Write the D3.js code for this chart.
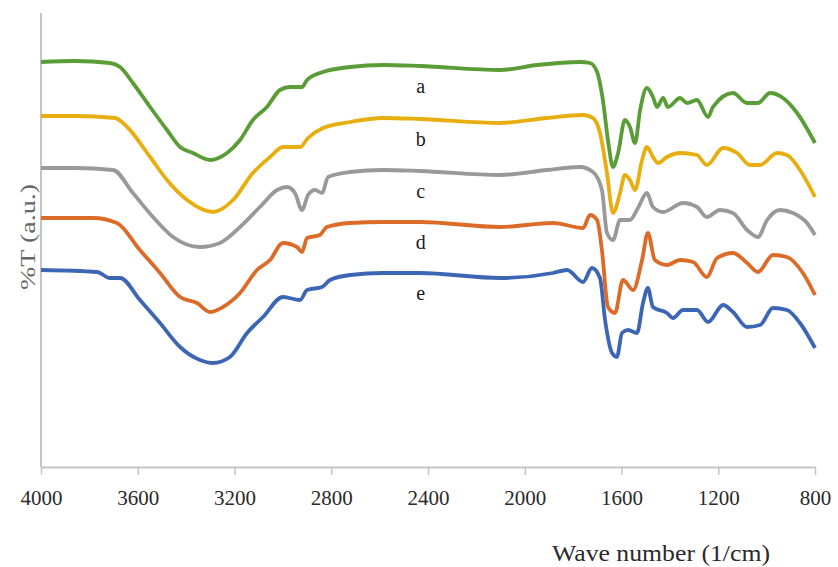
<!DOCTYPE html>
<html>
<head>
<meta charset="utf-8">
<script src="https://cdn.jsdelivr.net/npm/d3@7"></script>
<style>
  body { margin: 0; background: #fff; }
  svg { display: block; }
</style>
</head>
<body>
<svg id="chart" width="838" height="567"></svg>
<script>
// wave number ticks (1/cm), reversed axis
var waveTicks = [4000, 3600, 3200, 2800, 2400, 2000, 1600, 1200, 800];
var labels = ['a', 'b', 'c', 'd', 'e'];

// [wave number, %T (a.u.)]
var seriesA = [[4000,405],[3860,406],[3715,404],[3673,400],[3620,384],[3549,360],[3479,337],[3425,320],[3372,314],[3301,307],[3231,314],[3177,327],[3124,347],[3066,360],[3012,377],[2971,380],[2921,380],[2900,387],[2834,395],[2722,400],[2586,402],[2433,401],[2102,397],[1949,402],[1772,405],[1730,404],[1701,395],[1677,367],[1656,327],[1635,300],[1614,314],[1586,347],[1565,340],[1544,324],[1523,357],[1495,379],[1470,370],[1453,360],[1428,369],[1408,360],[1358,369],[1329,364],[1288,367],[1242,350],[1222,360],[1139,374],[1081,364],[1036,364],[986,374],[932,369],[874,354],[800,324]];
var seriesB = [[4000,351],[3860,351],[3694,349],[3644,340],[3549,310],[3479,287],[3396,267],[3289,255],[3206,267],[3124,294],[3053,310],[3000,320],[2929,320],[2896,329],[2834,339],[2722,345],[2586,349],[2433,348],[2102,344],[1908,349],[1759,352],[1718,349],[1689,334],[1660,294],[1635,254],[1606,274],[1586,292],[1565,287],[1544,277],[1515,307],[1495,320],[1470,310],[1449,304],[1412,310],[1358,314],[1288,312],[1247,302],[1180,319],[1122,314],[1069,302],[1027,302],[957,314],[916,312],[862,297],[800,270]];
var seriesC = [[4000,299],[3860,299],[3702,297],[3620,274],[3537,250],[3454,230],[3343,220],[3260,224],[3177,240],[3095,260],[3024,277],[2983,280],[2950,274],[2921,257],[2896,272],[2867,277],[2838,274],[2813,290],[2722,295],[2586,297],[2433,296],[2102,292],[1908,297],[1772,300],[1718,295],[1681,277],[1660,234],[1635,227],[1606,247],[1565,247],[1532,259],[1495,274],[1470,260],[1428,255],[1346,264],[1288,260],[1247,250],[1193,257],[1139,254],[1081,237],[1036,230],[998,247],[945,257],[891,254],[833,244],[800,232]];
var seriesD = [[4000,249],[3785,249],[3686,244],[3591,217],[3508,194],[3425,170],[3355,164],[3301,155],[3248,160],[3177,174],[3107,197],[3053,207],[3000,224],[2942,220],[2921,215],[2900,229],[2847,232],[2818,240],[2722,244],[2586,245],[2433,245],[2102,240],[1883,244],[1759,239],[1730,252],[1701,247],[1681,217],[1656,160],[1627,154],[1594,187],[1552,177],[1515,207],[1491,234],[1462,207],[1412,202],[1358,207],[1304,205],[1247,190],[1205,209],[1139,214],[1081,204],[1036,195],[974,212],[916,210],[850,194],[800,172]];
var seriesE = [[4000,197],[3768,195],[3715,189],[3673,189],[3591,167],[3508,144],[3425,120],[3343,107],[3289,104],[3219,110],[3148,134],[3082,150],[3000,170],[2929,167],[2900,177],[2838,180],[2805,187],[2722,192],[2586,194],[2433,194],[2102,189],[1883,194],[1825,197],[1759,185],[1722,199],[1689,189],[1668,147],[1639,114],[1619,110],[1598,134],[1573,137],[1536,134],[1511,164],[1491,179],[1470,160],[1412,154],[1387,149],[1346,157],[1288,157],[1242,145],[1180,162],[1139,155],[1081,140],[1027,142],[974,159],[916,157],[862,144],[800,119]];

var series = [seriesA, seriesB, seriesC, seriesD, seriesE];
var colors = ['#5a9d36', '#e8ae10', '#999999', '#dc6b28', '#3c66b4'];

var svg = d3.select('#chart');
var x = d3.scaleLinear().domain([4000, 800]).range([41, 815]);
var y = d3.scaleLinear().domain([0, 454]).range([467, 13]);
var serif = '"Liberation Serif", "Times New Roman", serif';

// y axis: plain line, no ticks
svg.append('line')
    .attr('x1', 41).attr('x2', 41)
    .attr('y1', y(454)).attr('y2', y(0))
    .attr('stroke', '#c4c4c4')
    .attr('stroke-width', 2);

// x axis
var xAxis = svg.append('g')
    .attr('transform', 'translate(0,' + y(0) + ')')
    .call(d3.axisBottom(x).tickValues(waveTicks).tickSize(8).tickSizeOuter(0).tickPadding(15).tickFormat(d3.format('d')));
xAxis.select('.domain').attr('stroke', '#c4c4c4').attr('stroke-width', 2);
xAxis.selectAll('.tick line').attr('stroke', '#c4c4c4').attr('stroke-width', 1.5);
xAxis.selectAll('.tick text')
    .attr('fill', '#2a2a2a')
    .style('font-family', serif)
    .style('font-size', '21px');

var line = d3.line()
    .x(function(d) { return x(d[0]); })
    .y(function(d) { return y(d[1]); })
    .curve(d3.curveMonotoneX);

svg.selectAll('path.spec')
    .data(series)
    .enter().append('path')
    .attr('class', 'spec')
    .attr('fill', 'none')
    .attr('stroke', function(d, i) { return colors[i]; })
    .attr('stroke-width', 3.8)
    .attr('stroke-linejoin', 'round')
    .attr('d', line);

// curve letters, sitting under each trace near 2430 1/cm
svg.selectAll('text.lbl')
    .data(series)
    .enter().append('text')
    .attr('class', 'lbl')
    .attr('x', x(2430))
    .attr('y', function(d) {
        var p = d.find(function(v) { return v[0] === 2433; });
        return y(p[1]) + 27;
    })
    .attr('text-anchor', 'middle')
    .attr('fill', '#1a1a1a')
    .style('font-family', serif)
    .style('font-size', '20px')
    .text(function(d, i) { return labels[i]; });

// axis titles
svg.append('text')
    .attr('x', 661).attr('y', 561)
    .attr('text-anchor', 'middle')
    .attr('textLength', 218)
    .attr('lengthAdjust', 'spacingAndGlyphs')
    .attr('fill', '#2a2a2a')
    .style('font-family', serif)
    .style('font-size', '24px')
    .text('Wave number (1/cm)');

svg.append('text')
    .attr('transform', 'translate(35,237) rotate(-90)')
    .attr('text-anchor', 'middle')
    .attr('textLength', 106)
    .attr('lengthAdjust', 'spacingAndGlyphs')
    .attr('fill', '#666')
    .style('font-family', serif)
    .style('font-size', '21px')
    .text('%T (a.u.)');
</script>
</body>
</html>
